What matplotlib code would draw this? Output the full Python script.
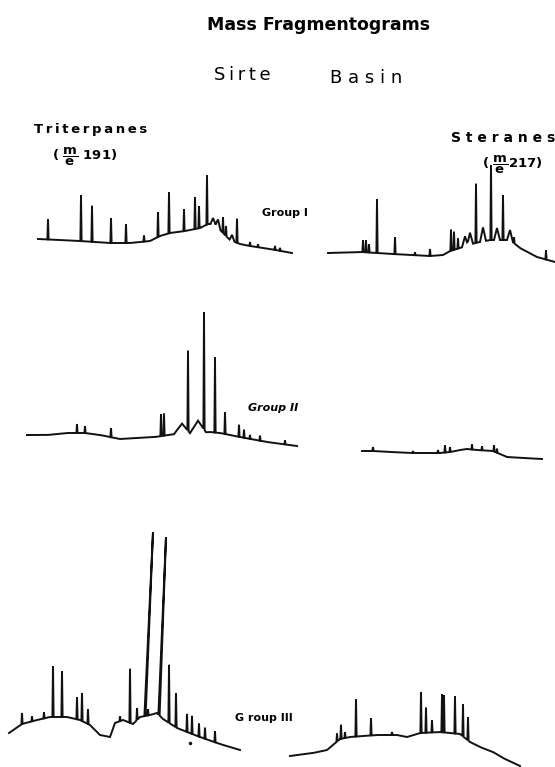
import numpy as np
import matplotlib.pyplot as plt

plt.rcParams["mathtext.fontset"] = "dejavusans"

# Triterpanes (m/e 191), Group I
t1_base_x = [38, 60, 80, 110, 130, 150, 160, 170, 185, 200, 208, 215, 222, 230, 240, 250, 270, 292]
t1_base_y = [239, 240, 241, 243, 243, 241, 236, 233, 231, 228, 224, 224, 232, 240, 244, 246, 249, 253]
t1_peak_x = [48, 81, 92, 111, 126, 144, 158, 169, 184, 195, 199, 207, 213, 218, 223, 226, 232, 237, 250, 258, 275, 280]
t1_peak_h = [20, 46, 36, 25, 19, 6, 25, 41, 22, 32, 22, 49, 6, 8, 16, 10, 6, 24, 4, 3, 4, 3]
t1_peak_w = [0.6] * 12 + [2.5, 2.5, 0.6, 0.6, 2.5, 0.6, 0.6, 0.6, 0.6, 0.6]

# Steranes (m/e 217), Group I
s1_base_x = [328, 362, 377, 393, 430, 443, 450, 463, 475, 490, 510, 520, 537, 555]
s1_base_y = [253, 252, 253, 254, 256, 255, 251, 247, 243, 240, 240, 248, 257, 262]
s1_peak_x = [363, 366, 369, 377, 395, 415, 430, 451, 454, 458, 465, 470, 476, 483, 491, 497, 503, 510, 514, 546]
s1_peak_h = [12, 12, 8, 54, 17, 3, 7, 21, 18, 10, 10, 12, 59, 14, 75, 12, 45, 10, 6, 9]
s1_peak_w = [0.6] * 10 + [3, 3, 0.6, 3, 0.6, 3, 0.6, 3, 0.6, 0.6]

# Triterpanes, Group II
t2_base_x = [27, 47, 67, 85, 100, 120, 155, 175, 210, 220, 240, 267, 297]
t2_base_y = [435, 435, 433, 433, 435, 439, 437, 434, 432, 433, 437, 442, 446]
t2_peak_x = [77, 85, 111, 161, 164, 182, 198, 188, 204, 215, 225, 239, 244, 250, 260, 285]
t2_peak_h = [9, 7, 9, 22, 22, 10, 12, 80, 117, 75, 22, 12, 8, 4, 5, 4]
t2_peak_w = [0.6] * 5 + [8, 8] + [0.6] * 9

# Steranes, Group II
s2_base_x = [362, 373, 390, 413, 440, 450, 460, 467, 477, 493, 500, 507, 523, 542]
s2_base_y = [451, 451, 452, 453, 453, 452, 450, 449, 450, 451, 454, 457, 458, 459]
s2_peak_x = [373, 413, 438, 445, 450, 472, 482, 494, 497]
s2_peak_h = [4, 2, 3, 7, 5, 5, 4, 6, 4]
s2_peak_w = [0.6] * 9

# Triterpanes, Group III
t3_base_x = [9, 22, 37, 50, 67, 80, 90, 100, 110, 115, 123, 133, 140, 150, 157, 163, 177, 200, 220, 240]
t3_base_y = [733, 724, 720, 717, 717, 720, 725, 735, 737, 723, 720, 724, 717, 715, 713, 719, 728, 737, 744, 750]
t3_peak_x = [22, 32, 44, 53, 62, 77, 82, 88, 120, 130, 137, 148, 145, 159, 169, 176, 187, 192, 199, 205, 215]
t3_peak_h = [11, 5, 6, 51, 46, 22, 28, 15, 5, 54, 12, 6, 184, 178, 58, 34, 18, 18, 13, 11, 11]
t3_peak_w = [0.6] * 21
t3_lean = [0] * 12 + [8, 7] + [0] * 7

# Steranes, Group III
s3_base_x = [290, 313, 327, 333, 340, 350, 363, 377, 397, 407, 420, 440, 460, 470, 480, 493, 503, 520]
s3_base_y = [756, 753, 750, 745, 739, 737, 736, 735, 735, 737, 733, 732, 734, 742, 747, 752, 758, 766]
s3_peak_x = [337, 341, 345, 356, 371, 392, 421, 426, 432, 442, 444, 455, 463, 468]
s3_peak_h = [8, 14, 6, 37, 17, 3, 41, 25, 12, 38, 37, 37, 32, 23]
s3_peak_w = [0.6] * 14


def trace(bx, by, px, ph, pw, lean=None):
    px, ph, pw = np.asarray(px, float), np.asarray(ph, float), np.asarray(pw, float)
    lean = np.zeros(len(px)) if lean is None else np.asarray(lean, float)
    x = np.arange(bx[0], bx[-1] + 0.01, 0.5)
    y = np.interp(x, bx, by)
    broad = pw >= 2
    for p, h, w in zip(px[broad], ph[broad], pw[broad]):
        y = y - h * np.clip(1 - np.abs(x - p) / w, 0, None)
    keep = np.ones(len(x), bool)
    for p, w in zip(px[~broad], pw[~broad]):
        keep &= ~((x > p - w) & (x < p + w))
    keys, xs, ys = list(x[keep]), list(x[keep]), list(y[keep])
    for p, h, w, s in zip(px[~broad], ph[~broad], pw[~broad], lean[~broad]):
        for k, xx, yy in [(p - w, p - w, np.interp(p - w, x, y)),
                          (p, p + s, np.interp(p, x, y) - h),
                          (p + w, p + w, np.interp(p + w, x, y))]:
            keys.append(k); xs.append(xx); ys.append(yy)
    order = np.argsort(keys, kind="stable")
    return np.array(xs)[order], np.array(ys)[order]


fig = plt.figure(figsize=(5.55, 7.67), dpi=100)
ax = fig.add_axes([0, 0, 1, 1])
ax.set_xlim(0, 555)
ax.set_ylim(767, 0)
ax.axis("off")

traces = [
    (t1_base_x, t1_base_y, t1_peak_x, t1_peak_h, t1_peak_w, None),
    (s1_base_x, s1_base_y, s1_peak_x, s1_peak_h, s1_peak_w, None),
    (t2_base_x, t2_base_y, t2_peak_x, t2_peak_h, t2_peak_w, None),
    (s2_base_x, s2_base_y, s2_peak_x, s2_peak_h, s2_peak_w, None),
    (t3_base_x, t3_base_y, t3_peak_x, t3_peak_h, t3_peak_w, t3_lean),
    (s3_base_x, s3_base_y, s3_peak_x, s3_peak_h, s3_peak_w, None),
]
for tr in traces:
    xs, ys = trace(*tr)
    ax.plot(xs, ys, color="#111111", lw=1.4, solid_joinstyle="miter")

ax.plot([190], [743], "o", color="#111111", ms=1.5)

thin = "\u2009"
ax.text(319, 25, "Mass Fragmentograms", ha="center", va="center", fontsize=12.5, fontweight="bold")
ax.text(242, 75, thin.join("Sirte"), ha="center", va="center", fontsize=13)
ax.text(366, 78, " ".join("Basin"), ha="center", va="center", fontsize=13)
ax.text(91, 130, thin.join("Triterpanes"), ha="center", va="center", fontsize=9.5, fontweight="bold")
ax.text(85, 157, r"( $\dfrac{\mathbf{m}}{\mathbf{e}}$ 191)", ha="center", va="center", fontsize=9.5, fontweight="bold")
ax.text(503, 138, " ".join("Steranes"), ha="center", va="center", fontsize=10, fontweight="bold")
ax.text(512, 165, r"( $\dfrac{\mathbf{m}}{\mathbf{e}}$217)", ha="center", va="center", fontsize=9.5, fontweight="bold")
ax.text(262, 213, "Group I", ha="left", va="center", fontsize=8, fontweight="bold")
ax.text(248, 408, "Group II", ha="left", va="center", fontsize=8, fontweight="bold", style="italic")
ax.text(235, 718, "G roup III", ha="left", va="center", fontsize=8, fontweight="bold")

fig.savefig("out.png", dpi=100)
